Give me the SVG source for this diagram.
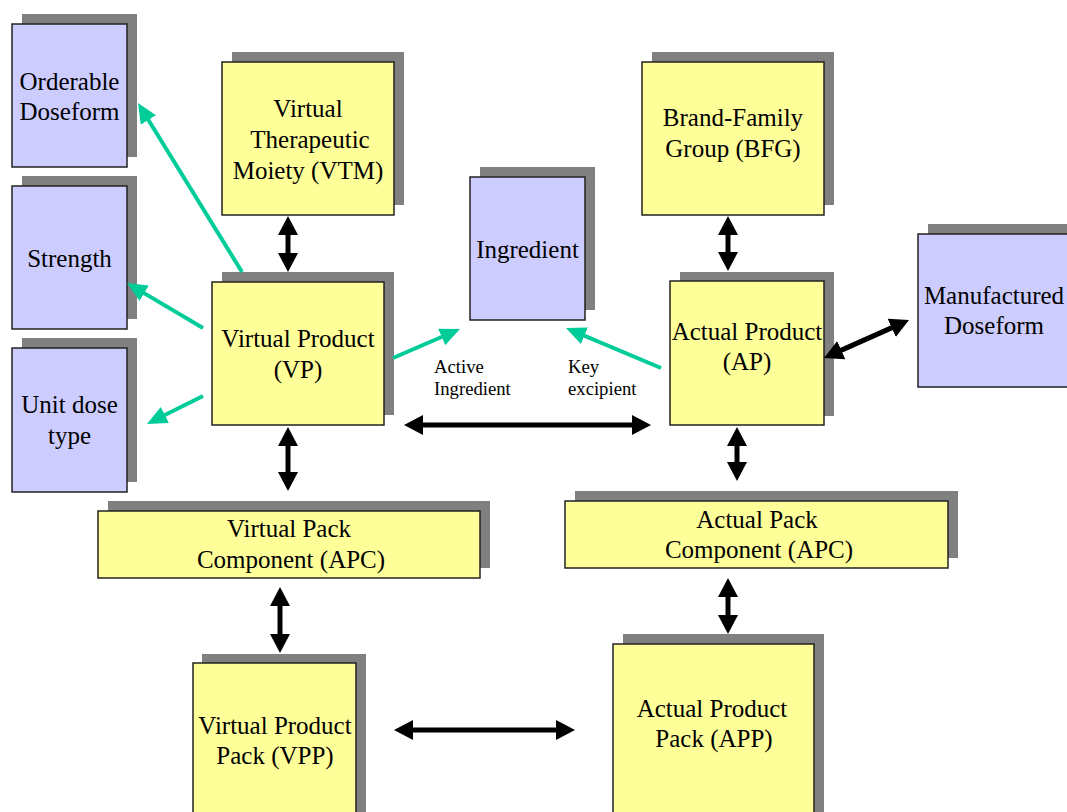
<svg xmlns="http://www.w3.org/2000/svg" width="1067" height="812" viewBox="0 0 1067 812">
<defs>
<marker id="bh" markerUnits="userSpaceOnUse" markerWidth="20" markerHeight="20" refX="9" refY="10" orient="auto-start-reverse" viewBox="0 0 20 20">
<path d="M0,0 L19,10 L0,20 z" fill="#000"/>
</marker>
<marker id="gh" markerUnits="userSpaceOnUse" markerWidth="20" markerHeight="18" refX="10" refY="9" orient="auto" viewBox="0 0 20 18">
<path d="M0,0 L20,9 L0,18 z" fill="#00CC99"/>
</marker>
</defs>
<style>
.sh{fill:#808080}
.y{fill:#FFFF99;stroke:#222;stroke-width:1.5}
.b{fill:#CCCCFF;stroke:#222;stroke-width:1.5}
.t{font-family:'Liberation Serif','Times New Roman',serif;font-size:25px;text-anchor:middle;fill:#000}
.s{font-family:'Liberation Serif','Times New Roman',serif;font-size:18.7px;fill:#000}
.ba{stroke:#000;stroke-width:5;fill:none;marker-start:url(#bh);marker-end:url(#bh)}
.ga{stroke:#00CC99;stroke-width:4;fill:none;marker-end:url(#gh)}
</style>
<rect width="1067" height="812" fill="#fff"/>

<g id="orderable-doseform">
<rect class="sh" x="22" y="14" width="115" height="143"/>
<rect class="b" x="12" y="24" width="115" height="143"/>
<text class="t" x="69.5" y="90">Orderable</text>
<text class="t" x="69.5" y="120">Doseform</text>
</g>
<g id="strength">
<rect class="sh" x="22" y="176" width="115" height="143"/>
<rect class="b" x="12" y="186" width="115" height="143"/>
<text class="t" x="69.5" y="267">Strength</text>
</g>
<g id="unit-dose-type">
<rect class="sh" x="22" y="338" width="115" height="144"/>
<rect class="b" x="12" y="348" width="115" height="144"/>
<text class="t" x="69.5" y="413">Unit dose</text>
<text class="t" x="69.5" y="444">type</text>
</g>
<g id="vtm">
<rect class="sh" x="232" y="52" width="172" height="153"/>
<rect class="y" x="222" y="62" width="172" height="153"/>
<text class="t" x="308" y="117">Virtual</text>
<text class="t" x="310" y="148">Therapeutic</text>
<text class="t" x="308" y="179">Moiety (VTM)</text>
</g>
<g id="vp">
<rect class="sh" x="222" y="272" width="172" height="143"/>
<rect class="y" x="212" y="282" width="172" height="143"/>
<text class="t" x="298" y="347">Virtual Product</text>
<text class="t" x="298" y="378">(VP)</text>
</g>
<g id="ingredient">
<rect class="sh" x="480" y="167" width="115" height="143"/>
<rect class="b" x="470" y="177" width="115" height="143"/>
<text class="t" x="527.5" y="258">Ingredient</text>
</g>
<g id="bfg">
<rect class="sh" x="652" y="52" width="182" height="153"/>
<rect class="y" x="642" y="62" width="182" height="153"/>
<text class="t" x="733" y="126">Brand-Family</text>
<text class="t" x="733" y="157">Group (BFG)</text>
</g>
<g id="ap">
<rect class="sh" x="680" y="272" width="154" height="144"/>
<rect class="y" x="670" y="281" width="154" height="144"/>
<text class="t" x="747" y="340">Actual Product</text>
<text class="t" x="747" y="370">(AP)</text>
</g>
<g id="manufactured-doseform">
<rect class="sh" x="928" y="224" width="150" height="153"/>
<rect class="b" x="918" y="234" width="160" height="153"/>
<text class="t" x="994" y="304">Manufactured</text>
<text class="t" x="994" y="334">Doseform</text>
</g>
<g id="vpc">
<rect class="sh" x="108" y="501" width="382" height="67"/>
<rect class="y" x="98" y="511" width="382" height="67"/>
<text class="t" x="289" y="537">Virtual Pack</text>
<text class="t" x="291" y="568">Component (APC)</text>
</g>
<g id="apc">
<rect class="sh" x="575" y="491" width="383" height="67"/>
<rect class="y" x="565" y="501" width="383" height="67"/>
<text class="t" x="757" y="528">Actual Pack</text>
<text class="t" x="759" y="558">Component (APC)</text>
</g>
<g id="vpp">
<rect class="sh" x="202" y="654" width="164" height="170"/>
<rect class="y" x="193" y="663" width="163" height="170"/>
<text class="t" x="275" y="734">Virtual Product</text>
<text class="t" x="275" y="764">Pack (VPP)</text>
</g>
<g id="app">
<rect class="sh" x="623" y="634" width="201" height="190"/>
<rect class="y" x="613" y="644" width="201" height="190"/>
<text class="t" x="712" y="717">Actual Product</text>
<text class="t" x="714" y="747">Pack (APP)</text>
</g>

<g id="connectors">
<path class="ba" d="M288,226 L288,262"/>
<path class="ba" d="M288,437 L288,481"/>
<path class="ba" d="M280,597 L280,643"/>
<path class="ba" d="M414,425 L641,425"/>
<path class="ba" d="M728,226 L728,261"/>
<path class="ba" d="M737,437 L737,471"/>
<path class="ba" d="M728,588 L728,624"/>
<path class="ba" d="M404,730 L565,730"/>
<path class="ba" d="M833.1,353.9 L899.9,324.1"/>
<path class="ga" d="M242,272 L143.2,111.5"/>
<path class="ga" d="M203,328 L135.6,288.1"/>
<path class="ga" d="M203,396 L155.9,419.5"/>
<path class="ga" d="M393,358 L450.8,333"/>
<path class="ga" d="M661,368 L575.2,331.9"/>
</g>
<g id="labels">
<text class="s" x="434" y="373">Active</text>
<text class="s" x="434" y="395">Ingredient</text>
<text class="s" x="568" y="373">Key</text>
<text class="s" x="568" y="395">excipient</text>
</g>
</svg>
